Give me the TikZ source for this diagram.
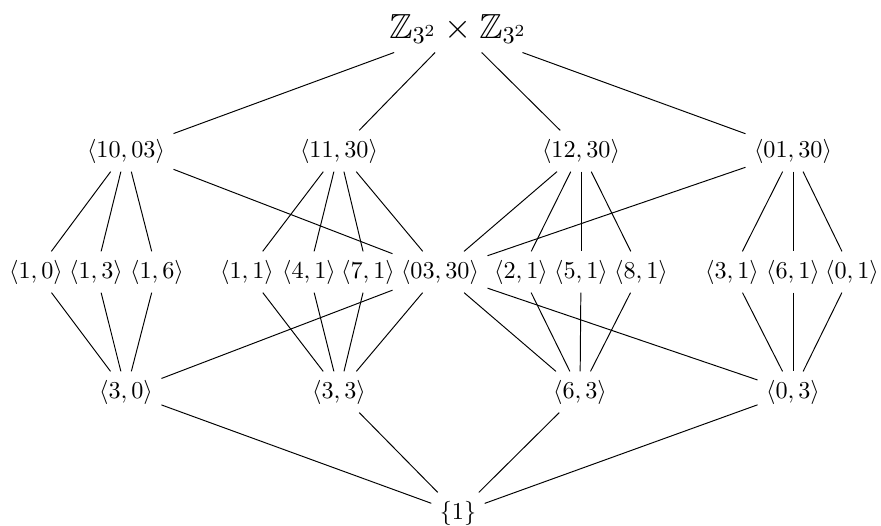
\documentclass[tikz,border=0pt]{standalone}
\usepackage{amssymb}
\begin{document}
\begin{tikzpicture}[x=0.4132pt,y=-0.4132pt,
  grp/.style={inner sep=0.333em},
  edge/.style={draw=black,line width=0.4pt}]
\useasboundingbox (0,0) rectangle (881,525);
\node[grp] (top) at (458,29) {\Large $\mathbb{Z}_{3^2}\times\mathbb{Z}_{3^2}$};
\node[grp] (a) at (126,151) {$\langle 10,03\rangle$};
\node[grp] (b) at (339,151) {$\langle 11,30\rangle$};
\node[grp] (c) at (581,151) {$\langle 12,30\rangle$};
\node[grp] (d) at (793,151) {$\langle 01,30\rangle$};
\node[grp] (r10) at (36,272) {$\langle 1,0\rangle$};
\node[grp] (r13) at (96,272) {$\langle 1,3\rangle$};
\node[grp] (r16) at (157,272) {$\langle 1,6\rangle$};
\node[grp] (r11) at (247,272) {$\langle 1,1\rangle$};
\node[grp] (r41) at (309,272) {$\langle 4,1\rangle$};
\node[grp] (r71) at (368,272) {$\langle 7,1\rangle$};
\node[grp] (m) at (440,272) {$\langle 03,30\rangle$};
\node[grp] (r21) at (521,272) {$\langle 2,1\rangle$};
\node[grp] (r51) at (581,272) {$\langle 5,1\rangle$};
\node[grp] (r81) at (641,272) {$\langle 8,1\rangle$};
\node[grp] (r31) at (732,272) {$\langle 3,1\rangle$};
\node[grp] (r61) at (793,272) {$\langle 6,1\rangle$};
\node[grp] (r01) at (852,272) {$\langle 0,1\rangle$};
\node[grp] (s30) at (126,392) {$\langle 3,0\rangle$};
\node[grp] (s33) at (339,392) {$\langle 3,3\rangle$};
\node[grp] (s63) at (580,392) {$\langle 6,3\rangle$};
\node[grp] (s03) at (793,392) {$\langle 0,3\rangle$};
\node[grp] (bot) at (458,513) {$\{1\}$};
\foreach \t in {a,b,c,d} \draw[edge] (top) -- (\t);
\foreach \t in {r10,r13,r16,m} \draw[edge] (a) -- (\t);
\foreach \t in {r11,r41,r71,m} \draw[edge] (b) -- (\t);
\foreach \t in {m,r21,r51,r81} \draw[edge] (c) -- (\t);
\foreach \t in {m,r31,r61,r01} \draw[edge] (d) -- (\t);
\foreach \t in {r10,r13,r16,m} \draw[edge] (\t) -- (s30);
\foreach \t in {r11,r41,r71,m} \draw[edge] (\t) -- (s33);
\foreach \t in {m,r21,r51,r81} \draw[edge] (\t) -- (s63);
\foreach \t in {m,r31,r61,r01} \draw[edge] (\t) -- (s03);
\foreach \t in {s30,s33,s63,s03} \draw[edge] (\t) -- (bot);
\end{tikzpicture}
\end{document}
